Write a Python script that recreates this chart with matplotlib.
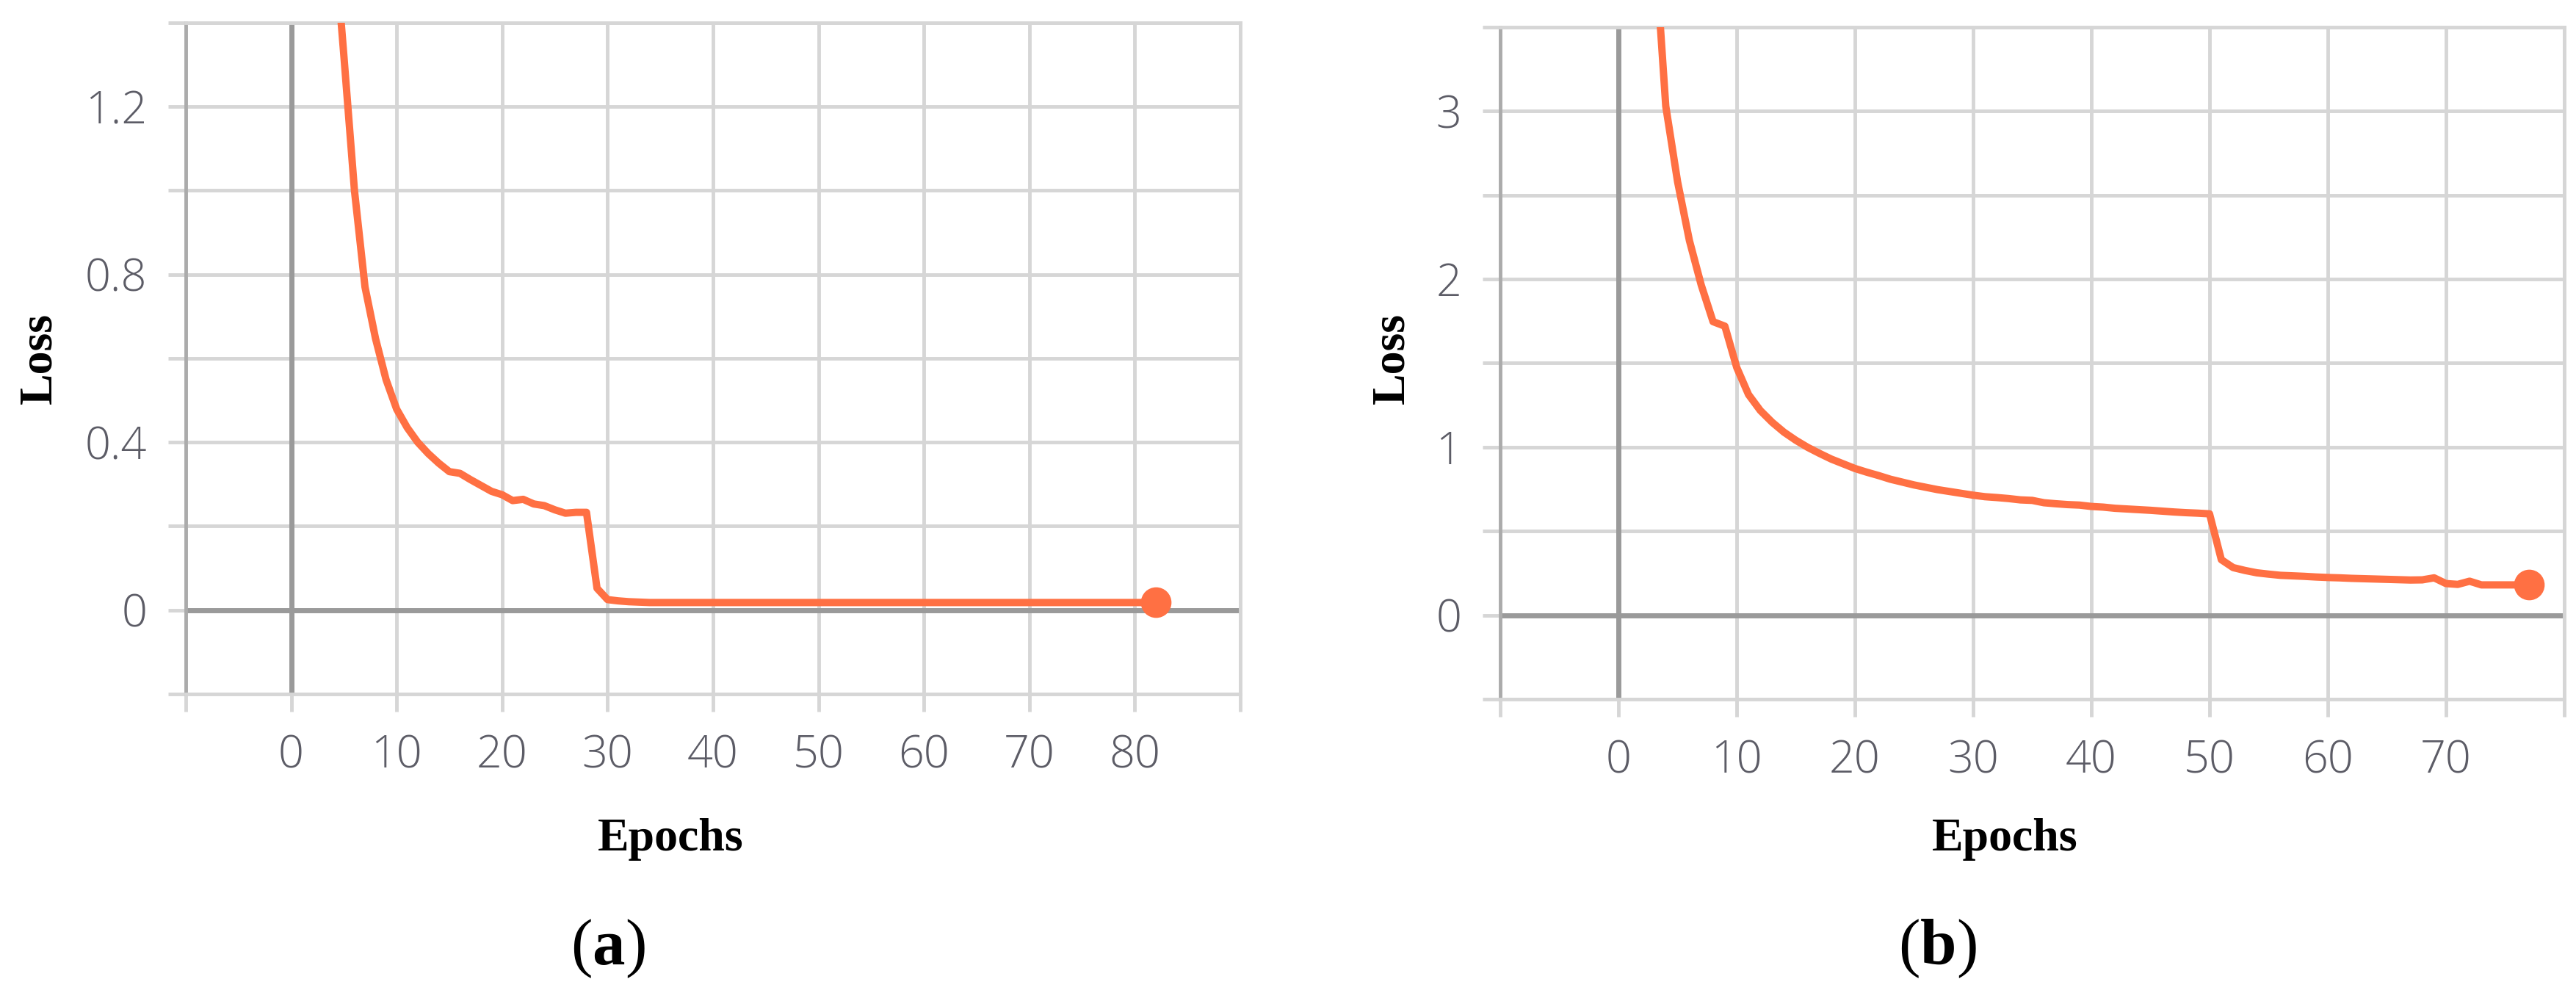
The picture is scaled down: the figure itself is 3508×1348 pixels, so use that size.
import numpy as np
import matplotlib
matplotlib.use("Agg")
import matplotlib.pyplot as plt

# ------------------------------------------------------------
# data
# ------------------------------------------------------------
epochs_a = list(range(1, 83))
loss_a = [4.2, 2.9, 2.1, 1.63, 1.32, 1.0, 0.77, 0.647, 0.549, 0.479,
          0.435, 0.40, 0.373, 0.35, 0.330, 0.326, 0.311, 0.297, 0.283, 0.275,
          0.261, 0.264, 0.253, 0.249, 0.239, 0.231, 0.233, 0.233, 0.052, 0.025,
          0.022, 0.020, 0.019, 0.018, 0.018, 0.018, 0.018, 0.018, 0.018, 0.018,
          0.018, 0.018, 0.018, 0.018, 0.018, 0.018, 0.018, 0.018, 0.018, 0.018,
          0.018, 0.018, 0.018, 0.018, 0.018, 0.018, 0.018, 0.018, 0.018, 0.018,
          0.018, 0.018, 0.018, 0.018, 0.018, 0.018, 0.018, 0.018, 0.018, 0.018,
          0.018, 0.018, 0.018, 0.018, 0.018, 0.018, 0.018, 0.018, 0.018, 0.018,
          0.018, 0.018]

epochs_b = list(range(1, 78))
loss_b = [7.5, 5.5, 4.07, 3.03, 2.58, 2.23, 1.965, 1.747, 1.72, 1.475,
          1.313, 1.218, 1.148, 1.089, 1.041, 0.999, 0.963, 0.929, 0.901, 0.873,
          0.851, 0.831, 0.809, 0.792, 0.775, 0.761, 0.747, 0.736, 0.725, 0.714,
          0.705, 0.700, 0.694, 0.686, 0.683, 0.669, 0.663, 0.658, 0.655, 0.647,
          0.643, 0.636, 0.632, 0.628, 0.624, 0.619, 0.614, 0.610, 0.607, 0.603,
          0.330, 0.283, 0.266, 0.252, 0.244, 0.237, 0.234, 0.231, 0.227, 0.224,
          0.222, 0.219, 0.217, 0.215, 0.213, 0.211, 0.209, 0.210, 0.222, 0.188,
          0.183, 0.202, 0.180, 0.180, 0.180, 0.180, 0.180]

xticks_a = list(range(-10, 100, 10))
xlabels_a = [""] + [str(v) for v in range(0, 90, 10)] + [""]
yticks_a = [-0.2, 0.0, 0.2, 0.4, 0.6, 0.8, 1.0, 1.2, 1.4]
ylabels_a = ["", "0", "", "0.4", "", "0.8", "", "1.2", ""]

xticks_b = list(range(-10, 90, 10))
xlabels_b = [""] + [str(v) for v in range(0, 80, 10)] + [""]
yticks_b = [-0.5, 0.0, 0.5, 1.0, 1.5, 2.0, 2.5, 3.0, 3.5]
ylabels_b = ["", "0", "", "1", "", "2", "", "3", ""]

# ------------------------------------------------------------
# style
# ------------------------------------------------------------
ORANGE = "#ff7043"
GRID = "#d6d6d6"
ZERO = "#9a9a9a"
EDGE = "#ababab"
TICKCOL = "#5c5c66"

plt.rcParams["mathtext.fontset"] = "custom"
plt.rcParams["mathtext.rm"] = "Liberation Serif"
plt.rcParams["mathtext.bf"] = "Liberation Serif:bold"

fig = plt.figure(figsize=(35.08, 13.48), dpi=100)
ax_a = fig.add_axes([0.0721, 0.2990, 0.4094, 0.6780])
ax_b = fig.add_axes([0.5824, 0.2938, 0.4130, 0.6788])


def style_axis(ax, x, y, xt, xl, yt, yl):
    ax.set_xlim(xt[0], xt[-1])
    ax.set_ylim(yt[0], yt[-1])
    ax.set_xticks(xt)
    ax.set_xticklabels(xl)
    ax.set_yticks(yt)
    ax.set_yticklabels(yl)
    ax.grid(True, color=GRID, linewidth=3.5, zorder=0)
    ax.set_axisbelow(True)
    for name, sp in ax.spines.items():
        sp.set_color(EDGE if name == "left" else GRID)
        sp.set_linewidth(3.5)
    ax.tick_params(axis="both", length=17, width=3.5, color=GRID,
                   labelcolor=TICKCOL, labelsize=44)
    ax.tick_params(axis="x", pad=22)
    ax.tick_params(axis="y", pad=21)
    for lab in ax.get_xticklabels() + ax.get_yticklabels():
        lab.set_family("Open Sans")
        lab.set_fontweight("light")
    ax.axhline(0, color=ZERO, linewidth=5, zorder=1)
    ax.axvline(0, color=ZERO, linewidth=5, zorder=1)
    ax.plot(x, y, color=ORANGE, linewidth=7.2, zorder=3, solid_joinstyle="round")
    ax.plot(x[-1], y[-1], "o", color=ORANGE, markersize=29, zorder=4)


style_axis(ax_a, epochs_a, loss_a, xticks_a, xlabels_a, yticks_a, ylabels_a)
style_axis(ax_b, epochs_b, loss_b, xticks_b, xlabels_b, yticks_b, ylabels_b)

label_font = dict(family="Liberation Serif", weight="bold", size=46)
fig.text(0.0154, 0.638, "Loss", rotation=90, ha="center", va="center", **label_font)
fig.text(0.5405, 0.638, "Loss", rotation=90, ha="center", va="center", **label_font)
fig.text(0.2603, 0.152, "Epochs", ha="center", va="center", **label_font)
fig.text(0.7782, 0.152, "Epochs", ha="center", va="center", **label_font)

fig.text(0.236, 0.042, r"($\mathbf{a}$)", ha="center", va="center",
         family="Liberation Serif", size=64)
fig.text(0.752, 0.042, r"($\mathbf{b}$)", ha="center", va="center",
         family="Liberation Serif", size=64)

fig.savefig("out.png", dpi=100)
